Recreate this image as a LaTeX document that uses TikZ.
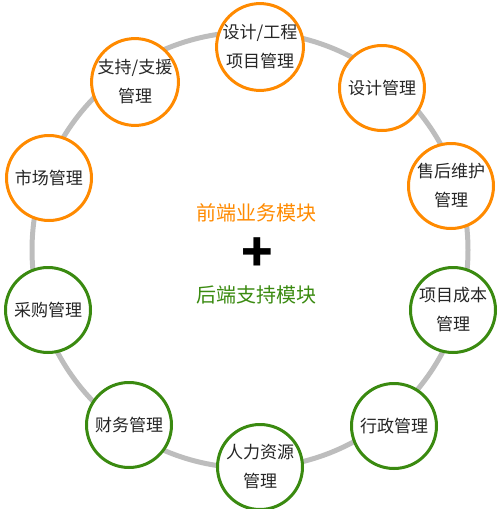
\documentclass[tikz,border=0pt]{standalone}
\usepackage{fontspec}
\setmainfont{Noto Sans CJK SC}
\usetikzlibrary{positioning}
\definecolor{frontorange}{HTML}{FF8A00}
\definecolor{backgreen}{HTML}{3A8A10}
\definecolor{ringgray}{HTML}{BDBDBD}
\tikzset{
    modcircle/.style={draw, circle, fill=white, line width=3pt, minimum size=85pt, inner sep=0pt,
        align=center, font=\fontsize{17}{29}\selectfont, text=black!85},
    front/.style={modcircle, draw=frontorange},
    back/.style={modcircle, draw=backgreen},
    title/.style={font=\fontsize{20}{24}\selectfont}
}

\begin{document}
\begin{tikzpicture}[x=1pt, y=-1pt]
  \useasboundingbox (0,0) rectangle (501,509);
  \draw[ringgray, line width=5pt](250,250) circle (218);

  \node(SJGC)[front] at (260,47){设计/工程\\项目管理};
  \node(SJ)[front] at (382,88){设计管理};
  \node(SH)[front] at (451,186){售后维护\\管理};
  \node(ZC)[front] at (135,82){支持/支援\\管理};
  \node(SC)[front] at (49,178){市场管理};

  \node(CG)[back] at (48,310){采购管理};
  \node(CW)[back] at (129,425){财务管理};
  \node(RL)[back] at (260,467){人力资源\\管理};
  \node(XZ)[back] at (394,426){行政管理};
  \node(CB)[back] at (453,310){项目成本\\管理};

  \node(QD)[title, text=frontorange] at (256,213){前端业务模块};
  \node(plus)[font=\fontsize{52}{52}\selectfont\bfseries] at (257,255){+};
  \node(HD)[title, text=backgreen, below=82pt of QD.center, anchor=center]{后端支持模块};
\end{tikzpicture}
\end{document}
